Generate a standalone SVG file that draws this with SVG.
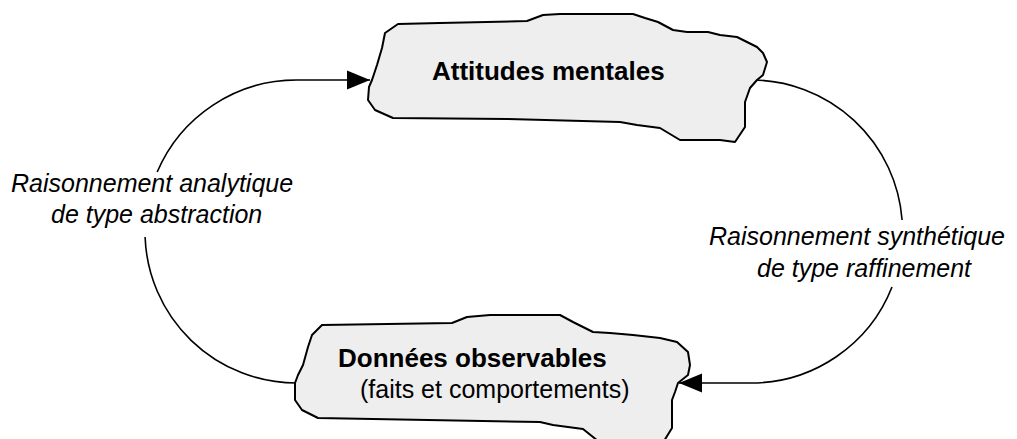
<svg xmlns="http://www.w3.org/2000/svg" width="1017" height="439" viewBox="0 0 1017 439">
  <style>
    .cloud { fill: #eeeeee; stroke: #000; stroke-width: 2; stroke-linejoin: round; }
    .conn { fill: none; stroke: #000; stroke-width: 1.6; }
    .title { font-family: "Liberation Sans", Arial, sans-serif; font-weight: bold; font-size: 26px; fill: #000; }
    .sub { font-family: "Liberation Sans", Arial, sans-serif; font-size: 25px; fill: #000; }
    .lbl { font-family: "Liberation Sans", Arial, sans-serif; font-style: italic; font-size: 25px; fill: #000; }
  </style>
  <defs>
    <marker id="arrow" markerUnits="userSpaceOnUse" markerWidth="24" markerHeight="20" refX="23" refY="10" orient="auto">
      <path d="M0,0.5 L23,10 L0,19.5 Z" fill="#000"/>
    </marker>
  </defs>
  <rect width="1017" height="439" fill="#fff"/>

  <g id="connectors">
    <path class="conn" d="M296.5,383 A151.5,151.5 0 0 1 145.1,237"/>
    <path class="conn" d="M157.2,172 A151.5,151.5 0 0 1 296.5,80 L370,80" marker-end="url(#arrow)"/>
    <path class="conn" d="M748,80 L751,80 A151.5,151.5 0 0 1 902.1,220"/>
    <path class="conn" d="M892,287 A151.5,151.5 0 0 1 751,383 L679,383" marker-end="url(#arrow)"/>
  </g>

  <g id="node-attitudes">
    <path class="cloud" d="M398,24 L440,23 L527,21 L543,15 L560,14 L633,14 L645,18 L658,22 L673,30 L687,32 L708,32 L720,35 L737,37 L757,47 L763,53 L767,62 L763,75 L757,80 L750,88 L745,102 L745,127 L735,142 L720,140 L680,140 L660,128 L637,125 L620,122 L507,119 L393,118 L375,110 L368,100 L369,87 L372,80 L377,65 L382,48 L385,33 Z"/>
    <text class="title" x="432" y="80">Attitudes mentales</text>
  </g>

  <g id="node-donnees">
    <path class="cloud" d="M322,325 L452,323 L467,317 L490,315 L560,315 L573,322 L593,332 L610,333 L633,335 L660,338 L677,342 L688,352 L690,365 L688,375 L678,383 L675,392 L672,400 L672,428 L664,441 L598,441 L583,429 L553,425 L540,422 L318,418 L302,410 L295,400 L295,383 L298,375 L303,365 L308,347 L312,335 Z"/>
    <text class="title" x="338" y="367">Données observables</text>
    <text class="sub" x="360" y="398">(faits et comportements)</text>
  </g>

  <g id="label-analytique">
    <text class="lbl" x="11" y="192">Raisonnement analytique</text>
    <text class="lbl" x="51" y="223">de type abstraction</text>
  </g>

  <g id="label-synthetique">
    <text class="lbl" x="709" y="245">Raisonnement synthétique</text>
    <text class="lbl" x="757" y="277">de type raffinement</text>
  </g>
</svg>
